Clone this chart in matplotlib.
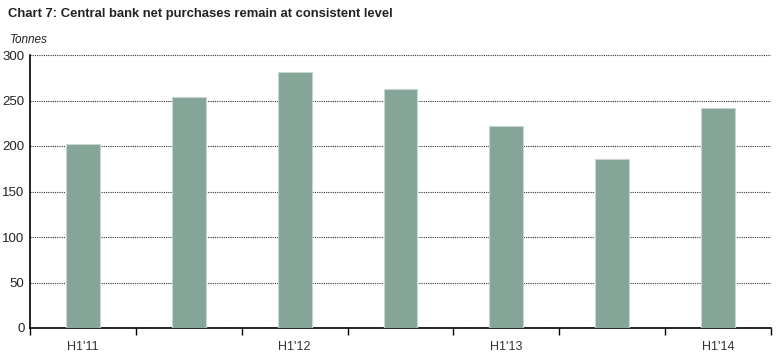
import matplotlib
matplotlib.use("Agg")
from matplotlib import pyplot as plt

periods = ["H1'11", "H2'11", "H1'12", "H2'12", "H1'13", "H2'13", "H1'14"]
shown_labels = ["H1'11", "", "H1'12", "", "H1'13", "", "H1'14"]
tonnes = [202, 254, 281, 263, 222, 186, 242]

plt.rcParams['font.family'] = ['Liberation Sans', 'DejaVu Sans']

fig = plt.figure(figsize=(7.76, 3.56), dpi=100)
ax = fig.add_axes([30 / 776, 1 - 328 / 356, 741 / 776, 273 / 356])

x = list(range(len(periods)))
ax.bar(x, tonnes, width=0.32, color="#84a598", edgecolor="#c9d6d0", linewidth=0.8, zorder=3)

ax.set_xlim(-0.5, len(periods) - 0.5)
ax.set_ylim(0, 300)
ax.set_yticks(range(0, 301, 50))
ax.tick_params(axis="y", length=0, labelsize=9.5, pad=4, labelcolor="#222222")

ax.set_xticks(x)
ax.set_xticklabels(shown_labels, fontsize=9, color="#333333")
ax.tick_params(axis="x", which="major", length=0, pad=9)
ax.set_xticks([i - 0.5 for i in range(len(periods) + 1)], minor=True)
ax.tick_params(axis="x", which="minor", length=5, width=1, direction="out", color="black")

ax.grid(axis="y", linestyle=(0, (1, 1)), color="#333333", linewidth=0.8, zorder=0)
for s in ["top", "right"]:
    ax.spines[s].set_visible(False)
ax.spines["left"].set_linewidth(1.2)
ax.spines["bottom"].set_linewidth(1.2)

fig.text(8 / 776, 1 - 14 / 356, "Chart 7: Central bank net purchases remain at consistent level",
         fontsize=9.4, fontweight="bold", color="#222222", va="center", ha="left")
fig.text(10 / 776, 1 - 40 / 356, "Tonnes", fontsize=8.5, style="italic", color="#222222",
         va="center", ha="left")

fig.savefig("out.png", dpi=100)
